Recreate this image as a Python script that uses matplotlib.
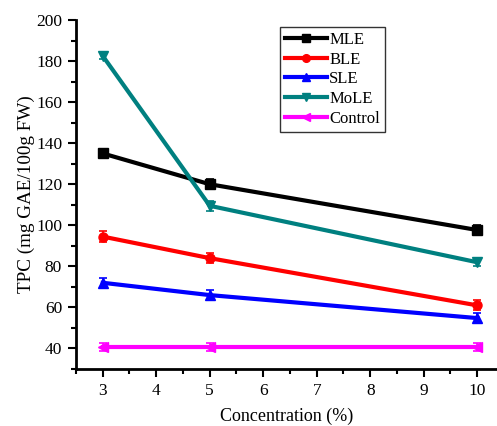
import matplotlib
matplotlib.use("Agg")
import matplotlib.pyplot as plt
from matplotlib.ticker import MultipleLocator

plt.rcParams['font.family'] = ['Liberation Serif', 'DejaVu Serif']

conc = [3, 5, 10]
names = ['MLE', 'BLE', 'SLE', 'MoLE', 'Control']
mle = [135, 120, 97.7]
ble = [94.5, 84, 61]
sle = [72, 66, 54.8]
mole = [182.5, 109.5, 82]
control = [40.6, 40.6, 40.6]
err_mle = [1.5, 2.5, 2.5]
err_ble = [2.5, 2.5, 2.5]
err_sle = [2.5, 2.5, 2.5]
err_mole = [1.5, 2.5, 2]
err_control = [2, 2, 2]

series = [mle, ble, sle, mole, control]
errs = [err_mle, err_ble, err_sle, err_mole, err_control]
colors = ['black', 'red', 'blue', '#008080', 'magenta']
markers = ['s', 'o', '^', 'v', '<']

fig = plt.figure(figsize=(4.97, 4.26), dpi=100)
ax = fig.add_axes([76/497, 1 - 369/426, 1 - 76/497, (369 - 20)/426])

for y, e, c, m, n in zip(series, errs, colors, markers, names):
    ax.errorbar(conc, y, yerr=e, fmt='none', ecolor=c,
                elinewidth=1.2, capsize=3, capthick=1.2)
    ax.plot(conc, y, color=c, marker=m, markersize=6.5, lw=3, label=n)

ax.set_xlim(2.5, 10.37)
ax.set_ylim(30, 200)
ax.xaxis.set_major_locator(MultipleLocator(1))
ax.xaxis.set_minor_locator(MultipleLocator(0.5))
ax.yaxis.set_minor_locator(MultipleLocator(10))
ax.set_yticks(range(40, 201, 20))
for s in ['top', 'right']:
    ax.spines[s].set_visible(False)
for s in ['left', 'bottom']:
    ax.spines[s].set_linewidth(2)
ax.tick_params(which='major', direction='out', length=6, width=1.5, labelsize=12.5, pad=4)
ax.tick_params(which='minor', direction='out', length=3.5, width=1.5)
ax.set_xlabel('Concentration (%)', fontsize=13, labelpad=6)
ax.set_ylabel('TPC (mg GAE/100g FW)', fontsize=13.8, labelpad=1)

leg = ax.legend(loc='upper left', bbox_to_anchor=((280 - 76) / 421, (369 - 27) / 349),
                fontsize=12, frameon=True, fancybox=False, edgecolor='black',
                handlelength=2.5, handletextpad=0.15, borderpad=0.3,
                labelspacing=0.22, borderaxespad=0, markerscale=0.85)
leg.get_frame().set_linewidth(1)

fig.savefig('out.png', dpi=100)
